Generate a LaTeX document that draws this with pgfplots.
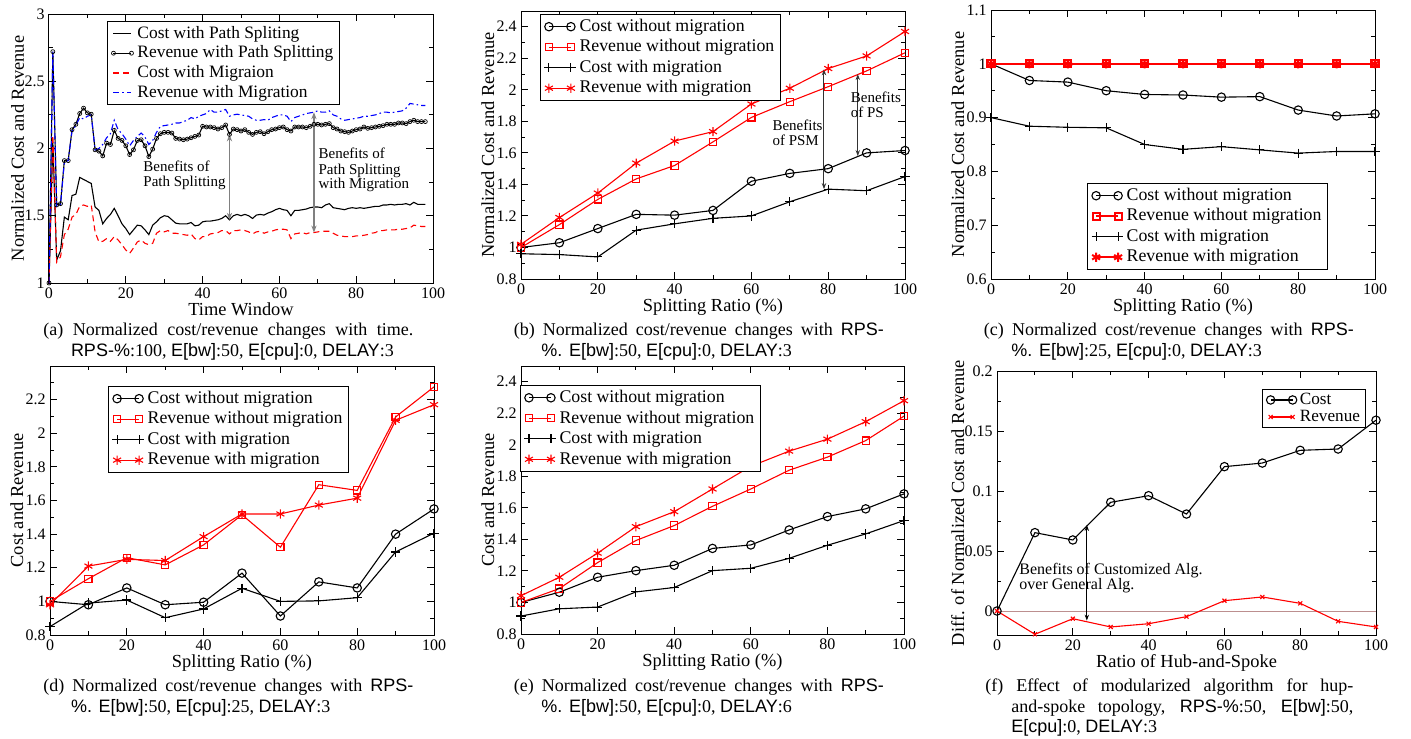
\documentclass[border=0pt]{standalone}
\usepackage{fontspec}
\setmainfont{Liberation Serif}
\setsansfont{Liberation Sans}
\usepackage{pgfplots}
\usepackage{pgfplotstable}
\pgfplotsset{compat=1.18}
\usetikzlibrary{arrows.meta}

\definecolor{rosy}{RGB}{188,143,143}

\pgfplotstableread{
t cps rps cm rm
0 1.00 1.00 1.00 1.00
1 2.05 2.72 2.10 2.72
2 1.17 1.58 1.155 1.57
3 1.24 1.59 1.195 1.58
4 1.49 1.91 1.36 1.90
5 1.47 1.91 1.40 1.91
6 1.65 2.14 1.49 2.13
7 1.66 2.18 1.51 2.17
8 1.785 2.26 1.57 2.23
9 1.77 2.30 1.58 2.22
10 1.755 2.265 1.57 2.24
11 1.74 2.255 1.58 2.25
12 1.565 1.99 1.38 1.99
13 1.54 1.98 1.305 2.00
14 1.44 1.945 1.31 2.03
15 1.48 2.04 1.33 2.08
16 1.51 2.03 1.31 2.11
17 1.555 2.135 1.345 2.21
18 1.50 2.075 1.32 2.14
19 1.44 2.06 1.285 2.11
20 1.405 2.02 1.245 2.07
21 1.36 1.955 1.22 2.02
22 1.395 1.99 1.26 2.06
23 1.43 2.06 1.305 2.09
24 1.425 2.065 1.32 2.115
25 1.395 2.02 1.295 2.085
26 1.36 1.94 1.285 2.03
27 1.43 1.995 1.295 2.06
28 1.455 2.075 1.37 2.12
29 1.485 2.11 1.39 2.165
30 1.50 2.12 1.38 2.17
31 1.495 2.12 1.39 2.175
32 1.47 2.115 1.37 2.18
33 1.445 2.075 1.37 2.19
34 1.44 2.07 1.365 2.19
35 1.44 2.065 1.36 2.20
36 1.44 2.07 1.355 2.21
37 1.45 2.08 1.365 2.23
38 1.425 2.09 1.33 2.22
39 1.43 2.10 1.32 2.24
40 1.455 2.165 1.345 2.25
41 1.46 2.16 1.345 2.26
42 1.46 2.16 1.365 2.29
43 1.465 2.155 1.37 2.27
44 1.47 2.145 1.375 2.27
45 1.48 2.155 1.39 2.28
46 1.50 2.175 1.39 2.29
47 1.47 2.105 1.365 2.24
48 1.50 2.145 1.39 2.25
49 1.51 2.14 1.39 2.255
50 1.50 2.13 1.395 2.25
51 1.51 2.14 1.39 2.245
52 1.50 2.12 1.38 2.24
53 1.48 2.105 1.365 2.22
54 1.505 2.12 1.38 2.21
55 1.51 2.125 1.385 2.21
56 1.505 2.11 1.37 2.215
57 1.52 2.125 1.38 2.21
58 1.53 2.14 1.385 2.23
59 1.545 2.145 1.395 2.24
60 1.555 2.155 1.40 2.25
61 1.545 2.16 1.40 2.25
62 1.54 2.14 1.395 2.24
63 1.50 2.13 1.33 2.20
64 1.54 2.16 1.365 2.23
65 1.54 2.16 1.37 2.24
66 1.545 2.16 1.375 2.25
67 1.55 2.155 1.365 2.26
68 1.56 2.165 1.375 2.265
69 1.565 2.18 1.375 2.27
70 1.565 2.18 1.38 2.28
71 1.56 2.175 1.385 2.27
72 1.58 2.18 1.385 2.27
73 1.59 2.185 1.385 2.28
74 1.56 2.155 1.37 2.25
75 1.555 2.145 1.355 2.24
76 1.55 2.13 1.35 2.22
77 1.545 2.125 1.345 2.21
78 1.555 2.12 1.345 2.215
79 1.56 2.13 1.345 2.22
80 1.555 2.14 1.35 2.225
81 1.56 2.145 1.35 2.23
82 1.555 2.16 1.355 2.24
83 1.56 2.15 1.36 2.24
84 1.565 2.155 1.37 2.245
85 1.57 2.16 1.375 2.25
86 1.57 2.165 1.39 2.26
87 1.58 2.17 1.39 2.27
88 1.58 2.18 1.395 2.27
89 1.585 2.18 1.395 2.265
90 1.58 2.18 1.395 2.27
91 1.585 2.19 1.40 2.275
92 1.585 2.19 1.40 2.28
93 1.59 2.185 1.405 2.30
94 1.58 2.20 1.41 2.335
95 1.60 2.21 1.43 2.33
96 1.585 2.20 1.425 2.325
97 1.585 2.20 1.42 2.32
98 1.585 2.20 1.42 2.32
}\tA

% x cost-without revenue-without cost-with revenue-with
\pgfplotstableread{
x cwo rwo cw rw
0 1.00 1.00 0.96 1.02
10 1.03 1.145 0.955 1.19
20 1.12 1.305 0.94 1.345
30 1.21 1.435 1.11 1.535
40 1.205 1.52 1.15 1.675
50 1.235 1.67 1.185 1.735
60 1.42 1.825 1.20 1.91
70 1.47 1.925 1.29 2.01
80 1.50 2.02 1.37 2.135
90 1.60 2.12 1.36 2.215
100 1.615 2.235 1.45 2.37
}\tB

\pgfplotstableread{
x cwo rwo cw rw
0 1.00 1.00 0.90 1.00
10 0.969 1.00 0.884 1.00
20 0.966 1.00 0.882 1.00
30 0.95 1.00 0.881 1.00
40 0.943 1.00 0.85 1.00
50 0.942 1.00 0.841 1.00
60 0.938 1.00 0.846 1.00
70 0.939 1.00 0.840 1.00
80 0.914 1.00 0.834 1.00
90 0.903 1.00 0.837 1.00
100 0.907 1.00 0.837 1.00
}\tC

\pgfplotstableread{
x cwo rwo cw rw
0 1.00 1.00 0.85 0.98
10 0.98 1.135 0.99 1.21
20 1.08 1.26 1.008 1.25
30 0.98 1.217 0.903 1.243
40 0.995 1.336 0.955 1.385
50 1.168 1.515 1.078 1.52
60 0.913 1.322 1.00 1.52
70 1.116 1.694 1.003 1.573
80 1.08 1.66 1.022 1.614
90 1.40 2.097 1.294 2.077
100 1.55 2.276 1.406 2.17
}\tD

\pgfplotstableread{
x cwo rwo cw rw
0 1.00 1.00 0.914 1.043
10 1.065 1.088 0.96 1.16
20 1.16 1.253 0.971 1.313
30 1.202 1.393 1.067 1.481
40 1.236 1.488 1.095 1.576
50 1.343 1.61 1.202 1.72
60 1.365 1.72 1.217 1.864
70 1.46 1.839 1.28 1.96
80 1.545 1.922 1.363 2.036
90 1.594 2.027 1.435 2.147
100 1.689 2.182 1.52 2.28
}\tE

\pgfplotstableread{
x cost rev
0 0 0
10 0.0653 -0.0194
20 0.0592 -0.0064
30 0.0906 -0.0133
40 0.0961 -0.0106
50 0.0808 -0.0047
60 0.1203 0.0086
70 0.1233 0.0117
80 0.1339 0.0064
90 0.135 -0.0086
100 0.159 -0.0133
}\tF

\tikzset{
  note/.style={font=\fontsize{7.5}{8}\selectfont, anchor=base west, inner sep=0pt},
  capt/.style={font=\fontsize{9}{10.8}\selectfont, anchor=base west, inner sep=0pt},
}

\pgfplotsset{
  panel/.style={
    scale only axis, anchor=south west,
    xmin=0, xmax=100, xtick={0,20,...,100}, minor x tick num=1,
    tick align=inside, major tick length=3.5pt, minor tick length=2pt,
    axis line style={line width=0.5pt},
    every tick/.append style={line width=0.5pt, black},
    tick label style={font=\fontsize{8}{9}\selectfont},
    yticklabel style={inner xsep=2pt},
    xticklabel style={inner ysep=2pt},
    /pgf/number format/assume math mode=true,
    label style={font=\fontsize{9.2}{11}\selectfont},
    xlabel style={at={([yshift=-16pt]axis description cs:0.5,0)}, anchor=base},
    ylabel style={at={([xshift=-13.5pt]axis description cs:0,0.5)}, anchor=base},
    every axis plot/.append style={line width=0.55pt},
    legend cell align=left,
    legend image code/.code={\draw plot coordinates {(0pt,0pt) (11pt,0pt)};},
    legend style={draw=black, fill=white, anchor=north west, line width=0.5pt,
      inner xsep=2pt, inner ysep=1pt, column sep=1pt, font=\fontsize{8.9}{11}\selectfont,
      nodes={inner sep=1pt, text height=6.5pt, text depth=1.75pt}},
  },
  cwo/.style={black, mark=o, mark size=2.1pt},
  rwo/.style={red, mark=square, mark size=1.8pt},
  cw/.style={black, mark=+, mark size=2.3pt},
  rw/.style={red, mark=asterisk, mark size=2.3pt},
}

\begin{document}
\begin{tikzpicture}
\path[use as bounding box] (0,0) rectangle (705.5pt,-369pt);

% (a)
\begin{axis}[panel, at={(24.5pt,-141.5pt)}, width=192pt, height=134.5pt,
  ymin=1, ymax=3, ytick={1,1.5,2,2.5,3}, minor y tick num=1,
  xlabel={Time Window}, ylabel={Normalized Cost and Revenue},
  ylabel style={at={([xshift=-12.5pt]axis description cs:0,0.5)}},
  legend image code/.code={\draw plot coordinates {(0pt,0pt) (9pt,0pt)};},
  legend style={at={(axis description cs:0.151,0.974)}, column sep=1pt,
    font=\fontsize{8.7}{10}\selectfont,
    nodes={inner sep=1pt, text height=6.3pt, text depth=1.6pt}}]
\addplot[black] table[x=t,y=cps]{\tA};
\addplot[black, mark=o, mark size=1pt, mark options={line width=0.35pt}] table[x=t,y=rps]{\tA};
\addplot[red, dash pattern=on 3pt off 2pt] table[x=t,y=cm]{\tA};
\addplot[blue, dash pattern=on 3pt off 1.5pt on 0.8pt off 1.5pt] table[x=t,y=rm]{\tA};
\legend{Cost with Path Spliting, Revenue with Path Splitting, Cost with Migraion, Revenue with Migration}
\draw[{Stealth[length=3.5pt,width=2.6pt]}-{Stealth[length=3.5pt,width=2.6pt]}, gray, line width=0.8pt]
  (axis cs:47,2.105) -- (axis cs:47,1.47);
\draw[{Stealth[length=3.5pt,width=2.6pt]}-{Stealth[length=3.5pt,width=2.6pt]}, gray, line width=0.8pt]
  (axis cs:69,2.27) -- (axis cs:69,1.375);
\node[note] at (axis cs:24.5,1.8275) {Benefits of};
\node[note] at (axis cs:24.5,1.716) {Path Splitting};
\node[note] at (axis cs:70.1,1.927) {Benefits of};
\node[note] at (axis cs:70.1,1.81) {Path Splitting};
\node[note] at (axis cs:70.1,1.704) {with Migration};
\end{axis}

% (b)
\begin{axis}[panel, at={(260.5pt,-139.5pt)}, width=192pt, height=134pt,
  ymin=0.8, ymax=2.5, ytick={0.8,1,1.2,1.4,1.6,1.8,2,2.2,2.4},
  minor ytick={0.9,1.1,1.3,1.5,1.7,1.9,2.1,2.3,2.5},
  xlabel={Splitting Ratio (\%)}, ylabel={Normalized Cost and Revenue},
  legend style={at={(axis description cs:0.049,0.989)}}]
\addplot[cwo] table[x=x,y=cwo]{\tB};
\addplot[rwo] table[x=x,y=rwo]{\tB};
\addplot[cw] table[x=x,y=cw]{\tB};
\addplot[rw] table[x=x,y=rw]{\tB};
\legend{Cost without migration, Revenue without migration, Cost with migration, Revenue with migration}
\draw[{Stealth[length=3pt,width=2.2pt]}-{Stealth[length=3pt,width=2.2pt]}, black!80, line width=0.5pt]
  (axis cs:78.9,2.13) -- (axis cs:78.9,1.37);
\draw[{Stealth[length=3pt,width=2.2pt]}-{Stealth[length=3pt,width=2.2pt]}, black!80, line width=0.5pt]
  (axis cs:87.7,2.10) -- (axis cs:87.7,1.58);
\node[note] at (axis cs:65.4,1.742) {Benefits};
\node[note] at (axis cs:65.4,1.646) {of PSM};
\node[note] at (axis cs:85.8,1.922) {Benefits};
\node[note] at (axis cs:85.8,1.827) {of PS};
\end{axis}

% (c)
\begin{axis}[panel, at={(495.5pt,-139.5pt)}, width=192pt, height=134.5pt,
  ymin=0.6, ymax=1.1, ytick={0.6,0.7,0.8,0.9,1,1.1}, minor y tick num=1,
  xlabel={Splitting Ratio (\%)}, ylabel={Normalized Cost and Revenue},
  legend style={at={(axis description cs:0.25,0.357)}}]
\addplot[cwo] table[x=x,y=cwo]{\tC};
\addplot[rwo, line width=1pt] table[x=x,y=rwo]{\tC};
\addplot[cw] table[x=x,y=cw]{\tC};
\addplot[rw, line width=1pt] table[x=x,y=rw]{\tC};
\legend{Cost without migration, Revenue without migration, Cost with migration, Revenue with migration}
\end{axis}

% (d)
\begin{axis}[panel, at={(25pt,-317.5pt)}, width=192pt, height=134.5pt,
  ymin=0.8, ymax=2.4, ytick={0.8,1,1.2,1.4,1.6,1.8,2,2.2},
  minor ytick={0.9,1.1,1.3,1.5,1.7,1.9,2.1,2.3},
  xlabel={Splitting Ratio (\%)}, ylabel={Cost and Revenue},
  legend style={at={(axis description cs:0.151,0.926)}}]
\addplot[cwo] table[x=x,y=cwo]{\tD};
\addplot[rwo] table[x=x,y=rwo]{\tD};
\addplot[cw] table[x=x,y=cw]{\tD};
\addplot[rw] table[x=x,y=rw]{\tD};
\legend{Cost without migration, Revenue without migration, Cost with migration, Revenue with migration}
\end{axis}

% (e)
\begin{axis}[panel, at={(260.5pt,-317pt)}, width=191.5pt, height=134pt,
  ymin=0.8, ymax=2.5, ytick={0.8,1,1.2,1.4,1.6,1.8,2,2.2,2.4},
  minor ytick={0.9,1.1,1.3,1.5,1.7,1.9,2.1,2.3,2.5},
  xlabel={Splitting Ratio (\%)}, ylabel={Cost and Revenue},
  legend style={at={(axis description cs:-0.003,0.929)}}]
\addplot[cwo] table[x=x,y=cwo]{\tE};
\addplot[rwo] table[x=x,y=rwo]{\tE};
\addplot[cw] table[x=x,y=cw]{\tE};
\addplot[rw] table[x=x,y=rw]{\tE};
\legend{Cost without migration, Revenue without migration, Cost with migration, Revenue with migration}
\end{axis}

% (f)
\begin{axis}[panel, at={(498.5pt,-317.5pt)}, width=189.5pt, height=132pt,
  ymin=-0.02, ymax=0.2, ytick={0,0.05,0.1,0.15,0.2}, minor y tick num=1,
  scaled y ticks=false,
  yticklabel style={/pgf/number format/fixed, /pgf/number format/precision=2},
  xlabel={Ratio of Hub-and-Spoke}, ylabel={Diff. of Normalized Cost and Revenue},
  ylabel style={at={([xshift=-16.5pt]axis description cs:0,0.5)}},
  legend style={at={(axis description cs:0.699,0.932)},
    font=\fontsize{8.6}{10}\selectfont,
    nodes={inner sep=0.5pt, text height=6pt, text depth=1.5pt}}]
\addplot[rosy, line width=0.4pt, forget plot] coordinates {(0,0) (100,0)};
\addplot[cwo] table[x=x,y=cost]{\tF};
\addplot[red, mark=x, mark size=1.4pt] table[x=x,y=rev]{\tF};
\legend{Cost, Revenue}
\draw[{Stealth[length=3pt,width=2.2pt]}-{Stealth[length=3pt,width=2.2pt]}, black, line width=0.5pt]
  (axis cs:23.7,0.0717) -- (axis cs:23.7,-0.008);
\node[note, font=\fontsize{8}{9}\selectfont] at (axis cs:5.8,0.0308) {Benefits of Customized Alg.};
\node[note, font=\fontsize{8}{9}\selectfont] at (axis cs:5.8,0.0181) {over General Alg.};
\end{axis}

% captions
\node[capt] at (21.5pt,-167.5pt) {\makebox[185pt][s]{(a) Normalized cost/revenue changes with time.}};
\node[capt] at (35.3pt,-178.3pt) {\textsf{RPS-\%}:100, \textsf{E[bw]}:50, \textsf{E[cpu]}:0, \textsf{DELAY}:3};
\node[capt] at (256.7pt,-167.5pt) {\makebox[185pt][s]{(b) Normalized cost/revenue changes with \textsf{RPS-}}};
\node[capt] at (270.5pt,-178.3pt) {\textsf{\%. E[bw]}:50, \textsf{E[cpu]}:0, \textsf{DELAY}:3};
\node[capt] at (491.7pt,-167.5pt) {\makebox[185pt][s]{(c) Normalized cost/revenue changes with \textsf{RPS-}}};
\node[capt] at (505.5pt,-178.3pt) {\textsf{\%. E[bw]}:25, \textsf{E[cpu]}:0, \textsf{DELAY}:3};
\node[capt] at (21.5pt,-345.8pt) {\makebox[185pt][s]{(d) Normalized cost/revenue changes with \textsf{RPS-}}};
\node[capt] at (35.3pt,-356.4pt) {\textsf{\%. E[bw]}:50, \textsf{E[cpu]}:25, \textsf{DELAY}:3};
\node[capt] at (256.7pt,-345.8pt) {\makebox[185pt][s]{(e) Normalized cost/revenue changes with \textsf{RPS-}}};
\node[capt] at (270.5pt,-356.4pt) {\textsf{\%. E[bw]}:50, \textsf{E[cpu]}:0, \textsf{DELAY}:6};
\node[capt] at (492.5pt,-345.8pt) {\makebox[184pt][s]{(f) Effect of modularized algorithm for hup-}};
\node[capt] at (505.5pt,-356.4pt) {\makebox[171pt][s]{and-spoke topology, \textsf{RPS-\%}:50, \textsf{E[bw]}:50,}};
\node[capt] at (505.5pt,-366.4pt) {\textsf{E[cpu]}:0, \textsf{DELAY}:3};
\end{tikzpicture}
\end{document}
